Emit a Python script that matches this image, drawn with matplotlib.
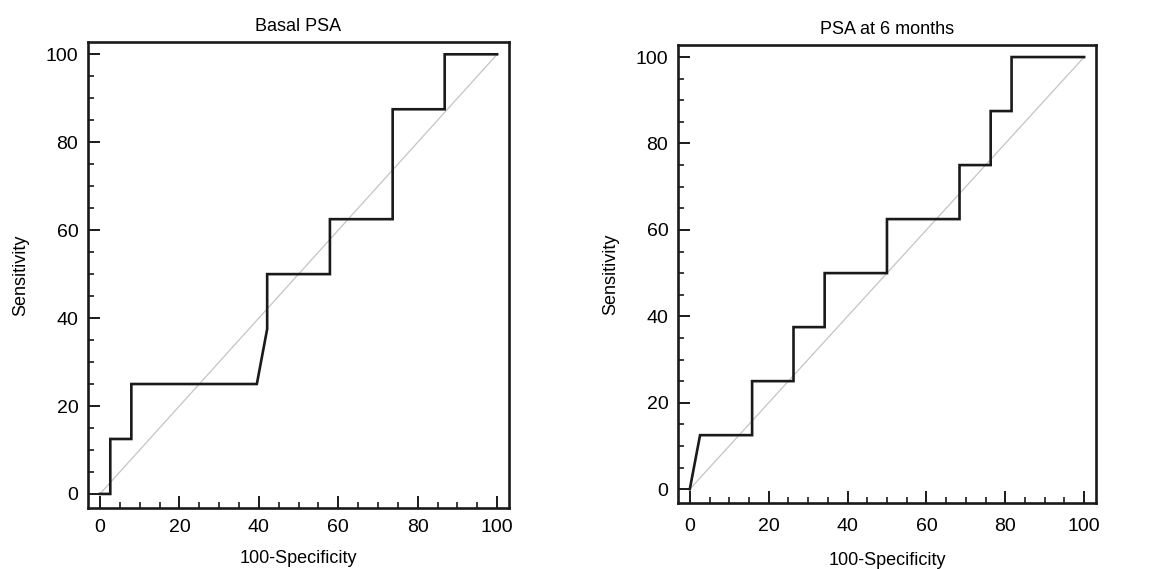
# ROC curves for basal PSA and PSA at 6 months.

import matplotlib
matplotlib.use('Agg')
import matplotlib.pyplot as plt
from matplotlib.ticker import MultipleLocator

# Basal PSA: (100-specificity, sensitivity) corner points
basal_fpr = [0, 2.6, 2.6, 7.9, 7.9, 39.5, 42.1, 42.1, 57.9, 57.9, 73.7, 73.7, 86.8, 86.8, 100]
basal_tpr = [0, 0, 12.5, 12.5, 25, 25, 37.5, 50, 50, 62.5, 62.5, 87.5, 87.5, 100, 100]

# PSA at 6 months
m6_fpr = [0, 2.6, 15.8, 15.8, 26.3, 26.3, 34.2, 34.2, 50.0, 50.0, 68.4, 68.4, 76.3, 76.3, 81.6, 81.6, 100]
m6_tpr = [0, 12.5, 12.5, 25, 25, 37.5, 37.5, 50, 50, 62.5, 62.5, 75, 75, 87.5, 87.5, 100, 100]

titles = ['Basal PSA', 'PSA at 6 months']

plt.rcParams['font.family'] = ['Liberation Sans', 'DejaVu Sans']

fig = plt.figure(figsize=(11.54, 5.69), dpi=100)
ax1 = fig.add_axes([0.0763, 0.1072, 0.3648, 0.819])
ax2 = fig.add_axes([0.5875, 0.1160, 0.3622, 0.805])

def makePanel(ax, fpr, tpr, title, xpad, xlpad):
  ax.plot([0, 100], [0, 100], color='#c4c4c4', linewidth=0.9)
  ax.plot(fpr, tpr, color='#1a1a1a', linewidth=1.9, solid_joinstyle='miter')
  ax.set_xlim(-3, 103)
  ax.set_ylim(-3.2, 102.8)
  ax.xaxis.set_major_locator(MultipleLocator(20))
  ax.xaxis.set_minor_locator(MultipleLocator(5))
  ax.yaxis.set_major_locator(MultipleLocator(20))
  ax.yaxis.set_minor_locator(MultipleLocator(5))
  ax.tick_params(which='major', direction='in', length=8.5, width=1.4, labelsize=14, pad=7, color='#1a1a1a')
  ax.tick_params(which='minor', direction='in', length=4.5, width=1.2, color='#1a1a1a')
  ax.tick_params(axis='x', which='major', pad=xpad)
  for sp in ax.spines.values():
    sp.set_linewidth(1.9)
    sp.set_color('#1a1a1a')
  ax.set_title(title, fontsize=13, pad=8)
  ax.set_xlabel('100-Specificity', fontsize=13, labelpad=xlpad)
  ax.set_ylabel('Sensitivity', fontsize=13, labelpad=12)

makePanel(ax1, basal_fpr, basal_tpr, titles[0], 8, 10)
makePanel(ax2, m6_fpr, m6_tpr, titles[1], 11, 12)

plt.savefig('out.png', dpi=100)
